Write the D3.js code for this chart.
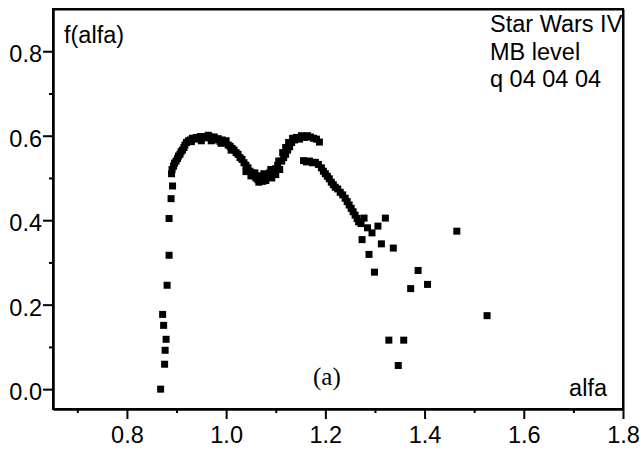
<!DOCTYPE html>
<html><head><meta charset="utf-8">
<script src="https://cdn.jsdelivr.net/npm/d3@7/dist/d3.min.js"></script>
<style>
html,body{margin:0;padding:0;background:#fff;}
svg{display:block;}
text{font-family:"Liberation Sans",Arial,sans-serif;fill:#000;}
</style></head>
<body><svg id="c" width="642" height="452"></svg>
<script>
const alfa = [0.868,0.876,0.877,0.879,0.874,0.872,0.881,0.885,0.885,0.889,0.892,
0.890,0.891,0.894,0.896,0.899,0.902,0.904,0.907,0.909,0.912,0.915,0.917,0.920,0.924,0.928,0.932,0.936,0.940,0.944,0.948,0.952,0.956,0.960,0.964,0.968,0.972,0.976,0.980,0.984,0.988,0.992,0.996,1.000,1.004,1.008,1.012,1.016,1.020,1.024,1.028,1.032,1.036,1.040,1.044,1.048,1.052,1.056,1.060,1.064,1.068,1.072,1.076,1.080,1.084,1.088,1.092,1.096,1.100,1.104,1.108,1.112,1.116,1.120,1.124,1.128,1.132,1.134,1.138,1.142,1.148,1.152,1.158,1.164,1.170,1.176,1.182,1.188,
1.040,1.050,1.058,1.066,1.074,1.090,1.100,1.106,1.114,1.120,1.126,0.930,0.950,0.970,0.990,1.010,
1.156,1.162,1.168,1.174,1.180,1.186,1.192,1.196,1.200,1.204,1.208,1.212,1.216,1.220,1.225,1.230,1.235,1.240,1.244,1.248,1.252,1.256,1.260,1.264,1.267,1.272,1.278,1.285,1.294,1.306,1.321,1.274,1.313,1.337,1.288,1.299,1.387,1.406,1.372,1.465,1.526,1.328,1.358,1.347];
const falfa = [0.000,0.059,0.092,0.118,0.151,0.177,0.246,0.317,0.404,0.451,0.481,
0.510,0.520,0.528,0.535,0.540,0.546,0.552,0.556,0.562,0.566,0.572,0.578,0.584,0.588,0.590,0.594,0.592,0.596,0.594,0.598,0.596,0.598,0.595,0.601,0.597,0.593,0.597,0.590,0.593,0.586,0.590,0.584,0.588,0.578,0.575,0.570,0.566,0.560,0.556,0.548,0.544,0.536,0.530,0.524,0.516,0.512,0.505,0.500,0.496,0.505,0.498,0.510,0.494,0.505,0.512,0.500,0.515,0.522,0.530,0.520,0.540,0.548,0.556,0.566,0.574,0.584,0.594,0.590,0.596,0.592,0.600,0.596,0.600,0.597,0.594,0.592,0.585,
0.515,0.505,0.512,0.490,0.492,0.520,0.508,0.540,0.560,0.572,0.584,0.586,0.588,0.588,0.582,0.566,
0.541,0.538,0.540,0.536,0.537,0.532,0.524,0.516,0.510,0.504,0.498,0.490,0.484,0.478,0.474,0.466,0.460,0.452,0.444,0.436,0.428,0.420,0.412,0.404,0.396,0.392,0.405,0.382,0.370,0.386,0.405,0.354,0.344,0.334,0.319,0.277,0.281,0.248,0.238,0.374,0.174,0.116,0.116,0.056];
const xMajor = [0.8,1.0,1.2,1.4,1.6,1.8];
const xMinor = [0.7,0.9,1.1,1.3,1.5,1.7];
const yMajor = [0.0,0.2,0.4,0.6,0.8];
const yMinor = [0.1,0.3,0.5,0.7];
const infoLines = ["Star Wars IV","MB level","q 04 04 04"];

const svg = d3.select("#c");
const L=53,R=623,T=9,B=409;
const x = d3.scaleLinear().domain([0.651,1.8]).range([L,R]);
const y = d3.scaleLinear().domain([-0.047,0.9]).range([B,T]);
const fs = 23.5;

const gx = svg.append("g").attr("transform",`translate(0,${B})`)
  .call(d3.axisBottom(x).tickValues(xMajor).tickSize(10).tickSizeOuter(0).tickFormat(d3.format(".1f")));
const gxm = svg.append("g").attr("transform",`translate(0,${B})`)
  .call(d3.axisBottom(x).tickValues(xMinor).tickSize(4).tickSizeOuter(0).tickFormat(""));
const gy = svg.append("g").attr("transform",`translate(${L},0)`)
  .call(d3.axisLeft(y).tickValues(yMajor).tickSize(10).tickSizeOuter(0).tickFormat(d3.format(".1f")));
const gym = svg.append("g").attr("transform",`translate(${L},0)`)
  .call(d3.axisLeft(y).tickValues(yMinor).tickSize(4).tickSizeOuter(0).tickFormat(""));
const gt = svg.append("g").attr("transform",`translate(0,${T})`)
  .call(d3.axisTop(x).tickValues([]).tickSizeOuter(0));
const gr = svg.append("g").attr("transform",`translate(${R},0)`)
  .call(d3.axisRight(y).tickValues([]).tickSizeOuter(0));
[gx,gxm,gy,gym,gt,gr].forEach(g=>{
  g.select(".domain").attr("stroke","#000").attr("stroke-width",2);
  g.selectAll(".tick line").attr("stroke","#000").attr("stroke-width",2);
  g.selectAll("text").attr("font-size",fs).attr("font-family",'"Liberation Sans",Arial,sans-serif').attr("fill","#000");
});
gx.selectAll(".tick text").attr("y",17).attr("dy","0.71em");
gy.selectAll(".tick text").attr("x",-11).attr("dy","0.45em");

// markers
const pts = alfa.map((a,i)=>[a,falfa[i]]);
const s = 7;
svg.append("g").selectAll("rect").data(pts).join("rect")
  .attr("x",d=>x(d[0])-s/2).attr("y",d=>y(d[1])-s/2)
  .attr("width",s).attr("height",s).attr("fill","#000");

// labels
svg.append("text").attr("x",64).attr("y",43).attr("font-size",fs).text("f(alfa)");
svg.append("text").attr("x",607).attr("y",396).attr("font-size",fs).attr("text-anchor","end").text("alfa");
svg.append("text").attr("x",313).attr("y",385).attr("font-size",25)
  .style("font-family",'"Liberation Serif","Times New Roman",serif').text("(a)");
svg.append("clipPath").attr("id","cp").append("rect").attr("x",L).attr("y",T).attr("width",R-L+1).attr("height",B-T);
svg.append("g").attr("clip-path","url(#cp)").selectAll("text").data(infoLines).join("text")
  .attr("x",490).attr("y",(d,i)=>32+i*27.7).attr("font-size",fs).text(d=>d);

// frame box drawn on top
svg.append("path")
  .attr("d",`M${L},${T}H${R}V${B}H${L}Z`)
  .attr("fill","none").attr("stroke","#000").attr("stroke-width",2);
</script></body></html>
